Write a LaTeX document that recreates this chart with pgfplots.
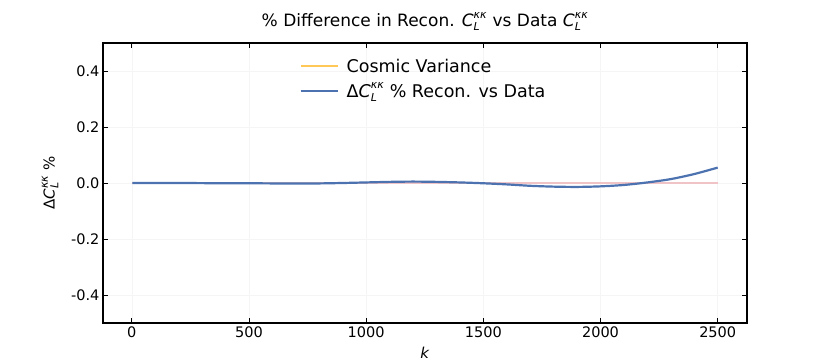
\documentclass[border=0pt]{standalone}
\usepackage{fontspec}
\setmainfont{DejaVu Sans}
\usepackage{pgfplots}
\pgfplotsset{compat=1.18}
\definecolor{cvorange}{HTML}{FFC857}
\definecolor{cvpink}{HTML}{F0C4C6}
\definecolor{deepblue}{HTML}{4C72B0}
\newcommand{\CLkk}{$\textit{C}_{\mbox{\fontsize{11}{12}\selectfont\itshape L}}^{\mbox{\fontsize{11}{12}\selectfont\itshape κκ}}$}
\begin{document}
\begin{tikzpicture}
\useasboundingbox (-103pt,-40pt) rectangle (727pt,323pt);
\begin{axis}[
    at={(0,0)}, anchor=south west,
    scale only axis, width=644pt, height=280pt,
    xmin=-123, xmax=2625, ymin=-0.5, ymax=0.5,
    xtick={0,500,...,2500},
    ytick={-0.4,-0.2,0,0.2,0.4},
    tick align=inside, major tick length=5pt,
    tick style={black, line width=0.9pt},
    xtick pos=both, ytick pos=both,
    xticklabel pos=lower, yticklabel pos=left,
    axis line style={line width=1.2pt},
    grid=major, grid style={gray!8, line width=0.6pt},
    /pgf/number format/assume math mode=true,
    /pgf/number format/1000 sep={},
    yticklabel style={/pgf/number format/fixed, /pgf/number format/precision=1, /pgf/number format/fixed zerofill},
    ticklabel style={font=\fontsize{14.5}{16}\selectfont},
    title={\% Difference in Recon. \CLkk{} vs Data \CLkk},
    title style={font=\fontsize{17}{19}\selectfont, yshift=3pt},
    xlabel={\textit{k}}, xlabel style={font=\fontsize{15}{17}\selectfont, yshift=-3pt},
    ylabel={Δ\CLkk{} \%}, ylabel style={font=\fontsize{15}{17}\selectfont, yshift=6pt},
    legend style={draw=none, fill=none, at={(0.3,0.958)}, anchor=north west,
        font=\fontsize{17.5}{19}\selectfont, row sep=5pt},
    legend cell align=left,
    legend image code/.code={\draw[#1, line width=2.2pt] (0pt,0pt) -- (37pt,0pt);},
]
\addplot[cvorange, line width=2.2pt] coordinates {(2,0) (2500,0)};
\addlegendentry{\hspace{6pt}Cosmic Variance}
\addplot[cvpink, line width=2pt, forget plot] coordinates {(2,0) (2500,0)};
\addplot[deepblue, line width=2.2pt, smooth] coordinates {
(2,0.0) (100,0.0) (200,0.0) (300,-0.0005) (400,-0.001) (500,-0.001)
(600,-0.0015) (700,-0.002) (800,-0.0015) (900,0.0) (1000,0.002)
(1100,0.004) (1200,0.005) (1300,0.004) (1400,0.002) (1500,-0.001)
(1600,-0.005) (1700,-0.010) (1800,-0.013) (1900,-0.014) (2000,-0.012)
(2100,-0.007) (2200,0.002) (2300,0.014) (2400,0.032) (2500,0.055)
};
\addlegendentry{\hspace{6pt}Δ\CLkk{} \% Recon. vs Data}
\end{axis}
\end{tikzpicture}
\end{document}
